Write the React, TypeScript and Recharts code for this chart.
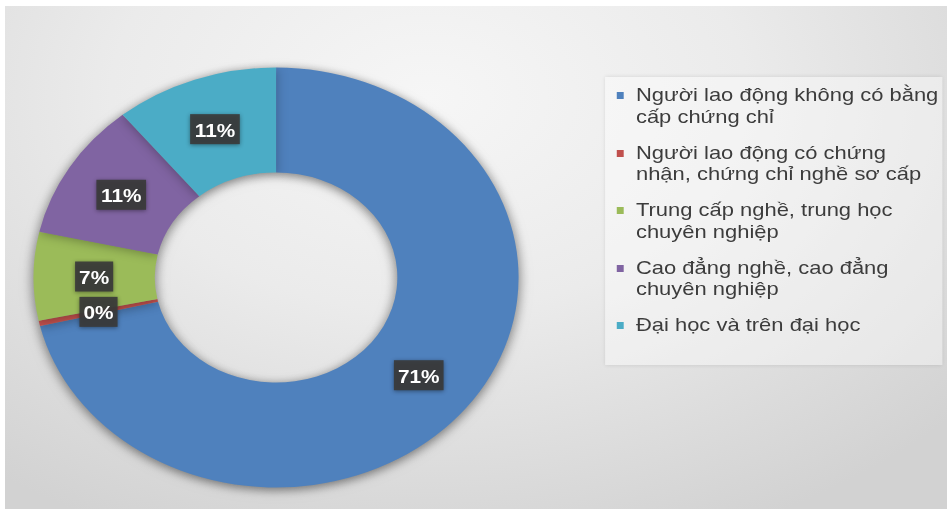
import { PieChart, Pie, Cell } from "recharts";

// legend names, in drawing order (clockwise from 12 o'clock)
const categories = [
  "Người lao động không có bằng cấp chứng chỉ",
  "Người lao động có chứng nhận, chứng chỉ nghề sơ cấp",
  "Trung cấp nghề, trung học chuyên nghiệp",
  "Cao đẳng nghề, cao đẳng chuyên nghiệp",
  "Đại học và trên đại học",
];

// shares in %
const values = [71.3, 0.4, 6.8, 10.6, 10.9];

const colors = ["#4F81BD", "#C0504D", "#9BBB59", "#8064A2", "#4BACC6"];

// the reference screenshot is stretched horizontally
const STRETCH = 1.155;
const W = 820;
const H = 510;
const FONT = '"Liberation Sans", Arial, sans-serif';

const data = categories.map((name, i) => ({ name, value: values[i] }));

const RADIAN = Math.PI / 180;

const renderLabel = ({ cx, cy, midAngle, innerRadius, outerRadius, percent }: any) => {
  const r = (innerRadius + outerRadius) / 2;
  const x = cx + r * Math.cos(-midAngle * RADIAN);
  const y = cy + r * Math.sin(-midAngle * RADIAN);
  const text = `${Math.round(percent * 100)}%`;
  const w = (text.length - 1) * 10 + 16 + 7;
  const h = 30;
  return (
    <g>
      <rect
        x={x - w / 2}
        y={y - h / 2}
        width={w}
        height={h}
        fill="#3a3a3a"
        fillOpacity={0.92}
        style={{ filter: "drop-shadow(0px 1px 2px rgba(0,0,0,0.45))" }}
      />
      <text
        x={x}
        y={y + 1}
        textAnchor="middle"
        dominantBaseline="central"
        fill="#ffffff"
        fontSize={18}
        fontWeight="bold"
        fontFamily={FONT}
      >
        {text}
      </text>
    </g>
  );
};

// legend drawn as plain html so it does not shift the pie
const LegendBox = () => (
  <div
    style={{
      position: "absolute",
      left: 524,
      top: 77,
      width: 292,
      height: 288,
      boxSizing: "border-box",
      padding: "7px 0 0 10px",
      background: "rgba(255,255,255,0.4)",
      boxShadow: "0 0 4px rgba(0,0,0,0.12)",
      fontFamily: FONT,
    }}
  >
    {categories.map((name, i) => (
      <div key={name} style={{ display: "flex", alignItems: "flex-start", marginBottom: 14.5 }}>
        <span
          style={{
            width: 6,
            height: 7,
            background: colors[i],
            marginTop: 8,
            marginRight: 10.6,
            flexShrink: 0,
          }}
        />
        <span style={{ width: 275, fontSize: 19, lineHeight: "21.5px", color: "#3c3c3c" }}>
          {name}
        </span>
      </div>
    ))}
  </div>
);

export default function App() {
  return (
    <div style={{ position: "absolute", left: 0, top: 0, width: 947, height: 510, background: "#fff" }}>
      <style>{`.donut { filter: drop-shadow(0px 2px 5px rgba(0,0,0,0.28)); }`}</style>
      <div
        style={{
          position: "absolute",
          left: 5,
          top: 6,
          width: 942,
          height: 503,
          background:
            "radial-gradient(ellipse 75% 95% at 45% 18%, #f6f6f6 0%, #ebebeb 45%, #d2d2d2 100%)",
        }}
      />
      <div
        style={{
          position: "absolute",
          left: 0,
          top: 0,
          width: W,
          height: H,
          transform: `scaleX(${STRETCH})`,
          transformOrigin: "0 0",
        }}
      >
        <PieChart width={W} height={H} margin={{ top: 0, right: 0, bottom: 0, left: 0 }}>
          <Pie
            className="donut"
            data={data}
            dataKey="value"
            nameKey="name"
            cx={239}
            cy={277.5}
            innerRadius={105}
            outerRadius={210}
            startAngle={90}
            endAngle={-270}
            stroke="none"
            labelLine={false}
            label={renderLabel}
            isAnimationActive={false}
          >
            {data.map((d, i) => (
              <Cell key={d.name} fill={colors[i]} />
            ))}
          </Pie>
        </PieChart>
        <LegendBox />
      </div>
    </div>
  );
}
